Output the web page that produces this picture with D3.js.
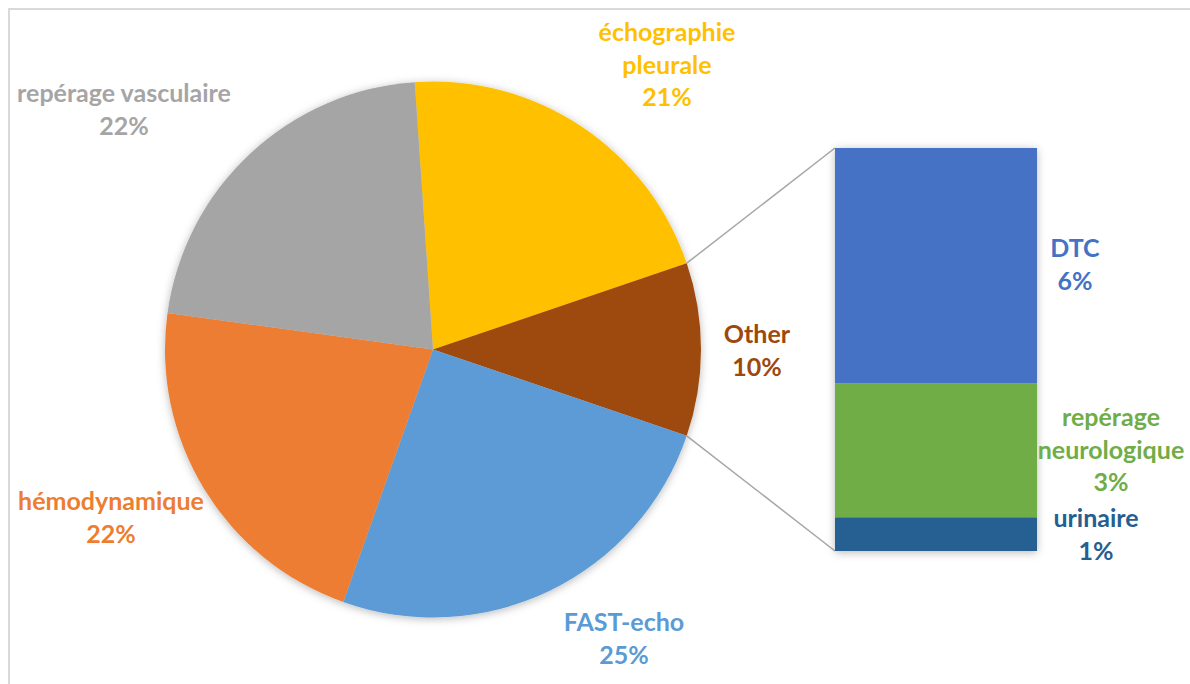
<!DOCTYPE html>
<html>
<head>
<meta charset="utf-8">
<script src="https://cdn.jsdelivr.net/npm/d3@7"></script>
<style>
  body { margin: 0; background: #fff; }
  text { font-family: Lato, "Open Sans", sans-serif; font-weight: bold; }
</style>
</head>
<body>
<div id="chart"></div>
<script>
// pie slices, clockwise from the top
var pieCategories = ["échographie pleurale", "Other", "FAST-echo", "hémodynamique", "repérage vasculaire"];
var pieValues = [24, 12, 29, 25, 25];
var pieColors = ["#FFC000", "#9E480E", "#5B9BD5", "#ED7D31", "#A5A5A5"];
var pieLabelLines = [["échographie", "pleurale"], ["Other"], ["FAST-echo"], ["hémodynamique"], ["repérage vasculaire"]];

// the "Other" slice broken out in the bar, top to bottom
var barCategories = ["DTC", "repérage neurologique", "urinaire"];
var barValues = [7, 4, 1];
var barColors = ["#4472C4", "#70AD47", "#255E91"];
var barLabelLines = [["DTC"], ["repérage", "neurologique"], ["urinaire"]];

var svgWidth = 1190;
var svgHeight = 684;

var cx = 433, cy = 349.5, radius = 268;
var bar = { x: 835, width: 202, top: 148, bottom: 551 };
var lineGap = 32.5;

// label anchors (centre x, first baseline y)
var pieLabelPos = [[667, 41], [757, 343], [624, 631], [111, 510], [124, 102]];
var barLabelPos = [[1075, 257], [1111, 426], [1096, 527]];

var total = d3.sum(pieValues);
var pct = function(v) { return Math.round(v / total * 100) + "%"; };

var svg = d3.select("#chart")
  .append("svg")
  .attr("width", svgWidth)
  .attr("height", svgHeight);

var defs = svg.append("defs");
var shadow = defs.append("filter")
  .attr("id", "shadow")
  .attr("x", "-10%").attr("y", "-10%")
  .attr("width", "120%").attr("height", "120%");
shadow.append("feDropShadow")
  .attr("dx", 0).attr("dy", 1.5)
  .attr("stdDeviation", 4)
  .attr("flood-color", "#000")
  .attr("flood-opacity", 0.28);

// chart border
svg.append("rect")
  .attr("x", 9).attr("y", 9)
  .attr("width", 1300).attr("height", 800)
  .attr("fill", "none")
  .attr("stroke", "#d9d9d9")
  .attr("stroke-width", 2);

// put "Other" centred on the right side
var otherIdx = pieCategories.indexOf("Other");
var before = d3.sum(pieValues.slice(0, otherIdx)) + pieValues[otherIdx] / 2;
var start = Math.PI / 2 - before / total * 2 * Math.PI;

var pie = d3.pie()
  .sort(null)
  .startAngle(start)
  .endAngle(start + 2 * Math.PI);

var arcs = pie(pieValues);
var arc = d3.arc().innerRadius(0).outerRadius(radius);

var pieGroup = svg.append("g")
  .attr("transform", `translate(${cx}, ${cy})`)
  .attr("filter", "url(#shadow)");

pieGroup.selectAll("path")
  .data(arcs)
  .enter()
  .append("path")
  .attr("d", arc)
  .attr("fill", (d, i) => pieColors[i]);

// bar of the broken-out slice
var yBar = d3.scaleLinear()
  .domain([0, d3.sum(barValues)])
  .range([bar.top, bar.bottom]);

var stacked = [];
var acc = 0;
barValues.forEach(function(v, i) {
  stacked.push({ y0: acc, y1: acc + v, i: i });
  acc += v;
});

// connector lines from the pie to the bar
var o = arcs[otherIdx];
var pt = function(a) { return [cx + radius * Math.sin(a), cy - radius * Math.cos(a)]; };
var p0 = pt(o.startAngle), p1 = pt(o.endAngle);
svg.append("line")
  .attr("x1", p0[0]).attr("y1", p0[1])
  .attr("x2", bar.x).attr("y2", yBar(0))
  .attr("stroke", "#a6a6a6").attr("stroke-width", 1.5);
svg.append("line")
  .attr("x1", p1[0]).attr("y1", p1[1])
  .attr("x2", bar.x).attr("y2", yBar(acc))
  .attr("stroke", "#a6a6a6").attr("stroke-width", 1.5);

svg.append("g")
  .attr("filter", "url(#shadow)")
  .selectAll("rect")
  .data(stacked)
  .enter()
  .append("rect")
  .attr("x", bar.x)
  .attr("width", bar.width)
  .attr("y", d => yBar(d.y0))
  .attr("height", d => yBar(d.y1) - yBar(d.y0))
  .attr("fill", d => barColors[d.i]);

// labels
function addLabel(lines, value, pos, color) {
  var t = svg.append("text")
    .attr("text-anchor", "middle")
    .attr("font-size", 25)
    .attr("fill", color);
  lines.concat([pct(value)]).forEach(function(s, k) {
    t.append("tspan")
      .attr("x", pos[0])
      .attr("y", pos[1] + k * lineGap)
      .text(s);
  });
}

pieCategories.forEach(function(c, i) {
  addLabel(pieLabelLines[i], pieValues[i], pieLabelPos[i], pieColors[i]);
});
barCategories.forEach(function(c, i) {
  addLabel(barLabelLines[i], barValues[i], barLabelPos[i], barColors[i]);
});
</script>
</body>
</html>
